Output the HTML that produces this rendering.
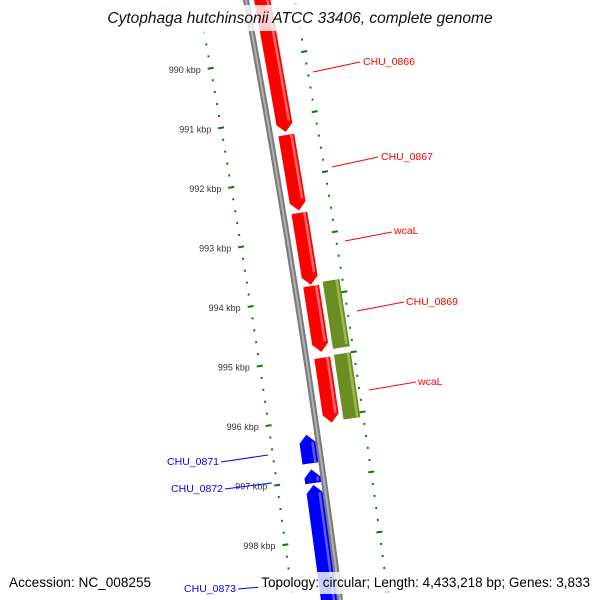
<!DOCTYPE html>
<html><head><meta charset="utf-8"><style>
html,body{margin:0;padding:0;background:#fff;width:600px;height:600px;overflow:hidden;}
svg{display:block;font-family:"Liberation Sans","DejaVu Sans",sans-serif;overflow:hidden;}
</style></head><body>
<svg id="map" width="600" height="600" viewBox="0 0 600 600" xmlns="http://www.w3.org/2000/svg">
<g id="rulers"></g>
<g id="backbone"></g>
<g id="features"></g>
<g id="labels"></g>
<rect x="100" y="5" width="400" height="26" fill="#fff" fill-opacity="0.8"/>
<text x="300" y="23" text-anchor="middle" font-size="15.5" font-style="italic" fill="#111">Cytophaga hutchinsonii ATCC 33406, complete genome</text>
<text x="9" y="587" font-size="13.6" fill="#000">Accession: NC_008255</text>
<rect x="258" y="572" width="336" height="22" fill="#fff" fill-opacity="0.8"/>
<text x="590" y="587" text-anchor="end" font-size="13.5" fill="#000">Topology: circular; Length: 4,433,218 bp; Genes: 3,833</text>
</svg>
<script>
const tickStart = 988.8, tickEnd = 999.4, tickStep = 0.2;
const majorTicks = [989,990,991,992,993,994,995,996,997,998,999];
const fwdNames = ["CHU_0866","CHU_0867","wcaL","CHU_0869","wcaL"];
const fwdStart = [988.6,991.3,992.6,993.82,995.02];
const fwdEnd = [991.25,992.56,993.8,994.92,996.1];
const grnStart = [993.78,995.0];
const grnEnd = [994.9,996.08];
const revNames = ["CHU_0871","CHU_0872","CHU_0873"];
const revStart = [996.24,996.82,997.08];
const revEnd = [996.72,997.05,999.6];

const NS="http://www.w3.org/2000/svg";
function Y(k){return 60+(k-990)*59.8;}
function C(y){return 246+0.1842*y-4.58e-5*y*y;}
function S(y){return 0.1842-2*4.58e-5*y;}
function P(y,d){const s=S(y),n=Math.sqrt(1+s*s);return [C(y)+d/n, y-d*s/n];}
function mk(tag,attrs,parent){const e=document.createElementNS(NS,tag);for(const k in attrs)e.setAttribute(k,attrs[k]);parent.appendChild(e);return e;}

const rul=document.getElementById('rulers');
[-47,48].forEach(function(d){
  for(let k=tickStart;k<=tickEnd+1e-6;k+=tickStep){
    const kk=Math.round(k*10)/10;
    const major=majorTicks.some(m=>Math.abs(m-kk)<1e-6);
    const y=Y(kk);
    const a=P(y,d-(major?3:1)), b=P(y,d+(major?3:1));
    const faded=y<30?0.3:1;
    const t=mk('line',{x1:a[0],y1:a[1],x2:b[0],y2:b[1],stroke:'#0a7a0a','stroke-width':2,'stroke-opacity':faded},rul);
    
    
    if(major&&d<0){
      const p=P(y,d-10);
      const tx=mk('text',{x:p[0],y:p[1]+3,'text-anchor':'end','font-size':9,fill:'#333','fill-opacity':faded},rul);
      tx.textContent=kk+' kbp';
      
      
    }
  }
});

const bb=document.getElementById('backbone');
let pts=[];for(let y=-10;y<=600;y+=10)pts.push(C(y)+','+y);
const b1=mk('polyline',{points:pts.join(' '),fill:'none',stroke:'#7a7a7a','stroke-width':6},bb);


const b2=mk('polyline',{points:pts.join(' '),fill:'none',stroke:'#b0b0b0','stroke-width':2},bb);



const fg=document.getElementById('features');
function feature(y1,y2,d1,d2,col,light,head,name){
  y2=Math.min(y2,605);
  const L=[],R=[];
  const ya=head<0?y1+8:y1, yb=head>0?y2-8:y2;
  for(let y=ya;y<=yb;y+=4){L.push(P(y,d1));R.push(P(y,d2));}
  L.push(P(yb,d1));R.push(P(yb,d2));
  let poly=[];
  if(head<0)poly.push(P(y1,(d1+d2)/2));
  poly=poly.concat(L);
  if(head>0)poly.push(P(y2,(d1+d2)/2));
  poly=poly.concat(R.reverse());
  const e=mk('polygon',{points:poly.map(p=>p.join(',')).join(' '),fill:col},fg);
  
  
  const hl=[];for(let y=ya;y<=yb;y+=4)hl.push(P(y,d2-3).join(','));
  const h=mk('polyline',{points:hl.join(' '),fill:'none',stroke:light,'stroke-width':2.5},fg);
  
  
}
const lg=document.getElementById('labels');
function label(x1,y1,x2,y2,tx,ty,anchor,col,txt){
  const l=mk('line',{x1:x1,y1:y1,x2:x2,y2:y2,stroke:col,'stroke-width':1},lg);
  
  
  const t=mk('text',{x:tx,y:ty,'text-anchor':anchor,'font-size':10.5,fill:col},lg);
  t.textContent=txt;
  
  
}
const fwdLab=[[313,72,360,62,363,65],[332,167,378,157,381,160],[345,241,392,232,394,234],[357,311,404,302,406,305],[369,390,416,382,418,385]];
const revLab=[[221,462,268,455,219,465],[225,489,272,483,223,492],[238,589,285,585,236,592]];
for(let i=0;i<fwdStart.length;i++){
  feature(Y(fwdStart[i]),Y(fwdEnd[i]),8,24,'#ff0000','#ff6a6a',1,'gene-'+fwdNames[i].toLowerCase());
  const L=fwdLab[i];
  label(L[0],L[1],L[2],L[3],L[4],L[5],'start','#ff0000',fwdNames[i]);
}
for(let i=0;i<grnStart.length;i++){
  feature(Y(grnStart[i]),Y(grnEnd[i]),28,45,'#6b8e23','#9bbb50',0,'gene-green-'+i);
}
for(let i=0;i<revStart.length;i++){
  feature(Y(revStart[i]),Y(revEnd[i]),-19,-3,'#0000ff','#5a5aff',-1,'gene-'+revNames[i].toLowerCase());
  const L=revLab[i];
  label(L[0],L[1],L[2],L[3],L[4],L[5],'end','#0000ff',revNames[i]);
}
</script>
</body></html>
